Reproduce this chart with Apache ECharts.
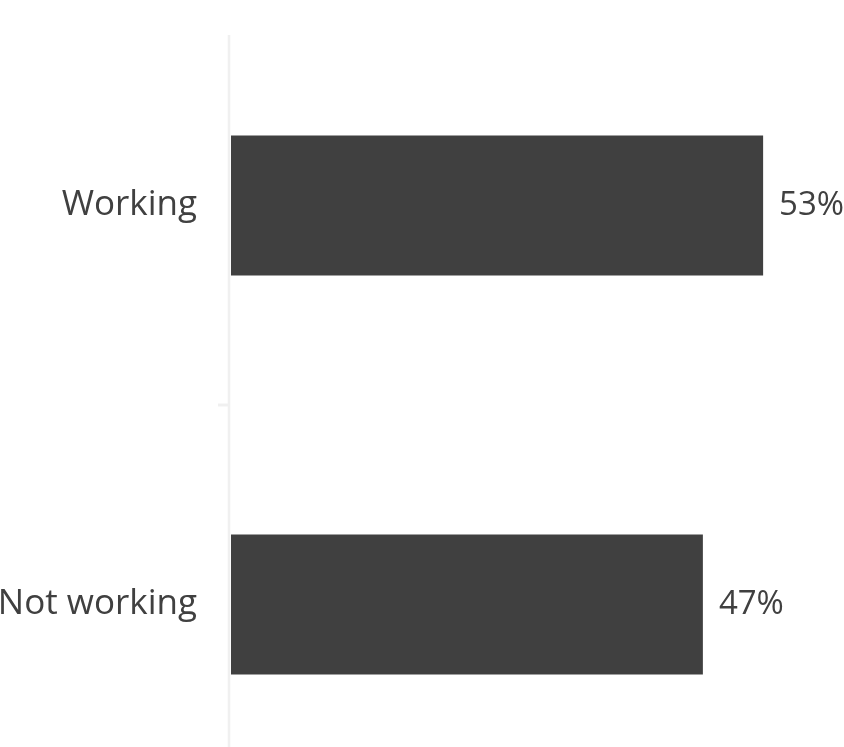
<!DOCTYPE html>
<html>
<head>
<meta charset="utf-8">
<style>
  html, body { margin: 0; padding: 0; background: #ffffff; }
  #chart { width: 844px; height: 747px; }
</style>
<script src="https://cdn.jsdelivr.net/npm/echarts@6/dist/echarts.min.js"></script>
</head>
<body>
<div id="chart"></div>
<script>
// Share of respondents by employment status
const categories = ['Working', 'Not working'];
const shares = [53, 47];

const TEXT = '#404040';
const BAR = '#404040';
const RULE = '#f0f0f0';
const FONT = '"Open Sans", "Noto Sans", sans-serif';

const chart = echarts.init(document.getElementById('chart'), null, { renderer: 'canvas' });

chart.setOption({
  animation: false,
  backgroundColor: '#ffffff',
  grid: {
    left: 231, top: 6, width: 602.4, height: 798,
    containLabel: false,
    outerBoundsMode: 'none'
  },
  xAxis: {
    type: 'value',
    min: 0,
    max: 60,
    show: false
  },
  yAxis: {
    type: 'category',
    data: categories,
    inverse: true,
    axisLine: { show: false },
    axisTick: { show: false },
    axisLabel: {
      color: TEXT,
      fontFamily: FONT,
      fontSize: 35,
      margin: 34
    }
  },
  series: [{
    type: 'bar',
    data: shares,
    barWidth: 140,
    itemStyle: { color: BAR },
    label: {
      show: true,
      position: 'right',
      distance: 16,
      color: TEXT,
      fontFamily: FONT,
      fontSize: 33,
      formatter: p => p.value + '%'
    }
  }]
});

// Category axis rule and the divider tick between the two bands
const x0 = chart.convertToPixel({ gridIndex: 0 }, [0, 0])[0] - 2;
const yA = chart.convertToPixel({ yAxisIndex: 0 }, categories[0]);
const yB = chart.convertToPixel({ yAxisIndex: 0 }, categories[1]);
const yMid = (yA + yB) / 2;
chart.setOption({
  graphic: [
    { type: 'line', shape: { x1: x0, y1: 35, x2: x0, y2: 747 }, style: { stroke: RULE, lineWidth: 2.5 }, z: 0 },
    { type: 'line', shape: { x1: x0 - 11, y1: yMid, x2: x0, y2: yMid }, style: { stroke: RULE, lineWidth: 3 }, z: 0 }
  ]
});
</script>
</body>
</html>
